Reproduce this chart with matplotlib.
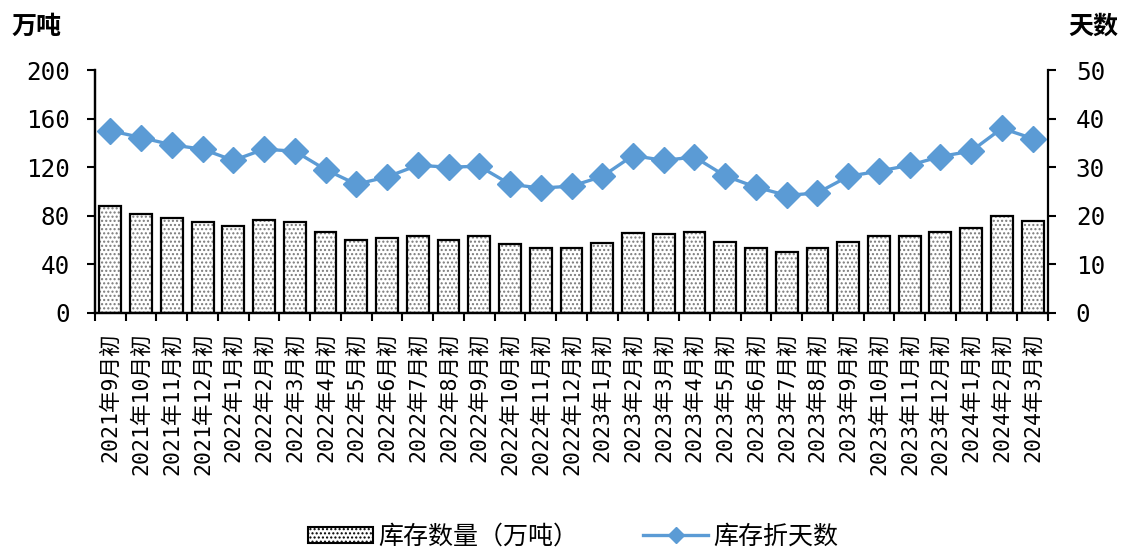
import matplotlib

matplotlib.use("Agg")
import matplotlib.pyplot as plt
from matplotlib.lines import Line2D
from matplotlib.patches import Patch

# Monthly stock (10k tonnes, left axis) and stock-in-days (right axis)
months = [
    "2021年9月初", "2021年10月初", "2021年11月初", "2021年12月初",
    "2022年1月初", "2022年2月初", "2022年3月初", "2022年4月初",
    "2022年5月初", "2022年6月初", "2022年7月初", "2022年8月初",
    "2022年9月初", "2022年10月初", "2022年11月初", "2022年12月初",
    "2023年1月初", "2023年2月初", "2023年3月初", "2023年4月初",
    "2023年5月初", "2023年6月初", "2023年7月初", "2023年8月初",
    "2023年9月初", "2023年10月初", "2023年11月初", "2023年12月初",
    "2024年1月初", "2024年2月初", "2024年3月初",
]
stock = [
    88, 81.6, 78, 75, 71.6, 76.5, 75, 66.4,
    60.3, 61.7, 63, 60, 63, 57, 53.5, 53.5,
    58, 66, 65, 66.5, 58.7, 53.7, 50.2, 53.7,
    58.7, 63.3, 63.3, 66.9, 70, 79.8, 75.4,
]
days = [
    37.5, 36.1, 34.6, 33.7, 31.4, 33.7, 33.3, 29.5,
    26.5, 28.0, 30.4, 30.0, 30.2, 26.5, 25.7, 26.1,
    28.1, 32.4, 31.4, 32.1, 28.2, 25.9, 24.2, 24.7,
    28.1, 29.2, 30.4, 32.2, 33.3, 38.0, 35.9,
]
left_ticks = [0, 40, 80, 120, 160, 200]
right_ticks = [0, 10, 20, 30, 40, 50]

LINE_BLUE = "#5B9BD5"
MONO = "DejaVu Sans Mono"
CJK = ["Noto Sans CJK SC", "DejaVu Sans"]
MIXED = [MONO, "Noto Sans CJK SC"]

plt.rcParams["hatch.linewidth"] = 1.0

fig = plt.figure(figsize=(11.28, 5.55), dpi=100)
ax = fig.add_axes([95 / 1128, 1 - 313 / 555, (1048 - 95) / 1128, (313 - 70) / 555])
ax2 = ax.twinx()

x = list(range(len(months)))

# dotted fill first, then the black outline on top
ax.bar(x, stock, width=0.71, color="white", edgecolor="#7a7a7a",
       hatch="....", linewidth=0, zorder=2)
ax.bar(x, stock, width=0.71, fill=False, edgecolor="black",
       linewidth=1.6, zorder=3)

ax2.plot(x, days, color=LINE_BLUE, linewidth=2.4, marker="D",
         markersize=13, markeredgecolor=LINE_BLUE, zorder=4)

ax.set_xlim(-0.5, len(months) - 0.5)
ax.set_ylim(0, 200)
ax2.set_ylim(0, 50)
ax.set_yticks(left_ticks)
ax2.set_yticks(right_ticks)

# tick marks on category boundaries, labels centred under each bar
ax.set_xticks([i - 0.5 for i in range(len(months) + 1)])
ax.set_xticklabels([])
ax.set_xticks(x, minor=True)
ax.set_xticklabels(months, minor=True, rotation=90, fontsize=15.5,
                   family=MIXED)
ax.tick_params(axis="x", which="minor", length=0, pad=14)
ax.tick_params(axis="x", which="major", length=6, width=1.5, direction="out")
ax.tick_params(axis="y", length=6, width=1.5, pad=12)
ax2.tick_params(axis="y", length=6, width=1.5, pad=14)

for lab in ax.get_yticklabels() + ax2.get_yticklabels():
    lab.set_family(MONO)
    lab.set_fontsize(17.5)

for a in (ax, ax2):
    a.spines["top"].set_visible(False)
    for s in a.spines.values():
        s.set_linewidth(1.6)
ax.spines["right"].set_visible(False)

fig.text(0.010, 0.952, "万吨", family=CJK, fontsize=18, weight="bold",
         ha="left", va="center")
fig.text(0.991, 0.952, "天数", family=CJK, fontsize=18, weight="bold",
         ha="right", va="center")

handles = [
    Patch(facecolor="white", edgecolor="black", hatch="....", linewidth=1.5),
    Line2D([], [], color=LINE_BLUE, linewidth=2.4, marker="D", markersize=8),
]
fig.legend(handles, ["库存数量（万吨）", "库存折天数"], loc="center",
           bbox_to_anchor=(0.508, 0.033), ncol=2, frameon=False,
           prop={"family": CJK, "size": 18}, columnspacing=2.6,
           handlelength=2.6, handleheight=0.6, handletextpad=0.2)

fig.savefig("out.png", dpi=100)
